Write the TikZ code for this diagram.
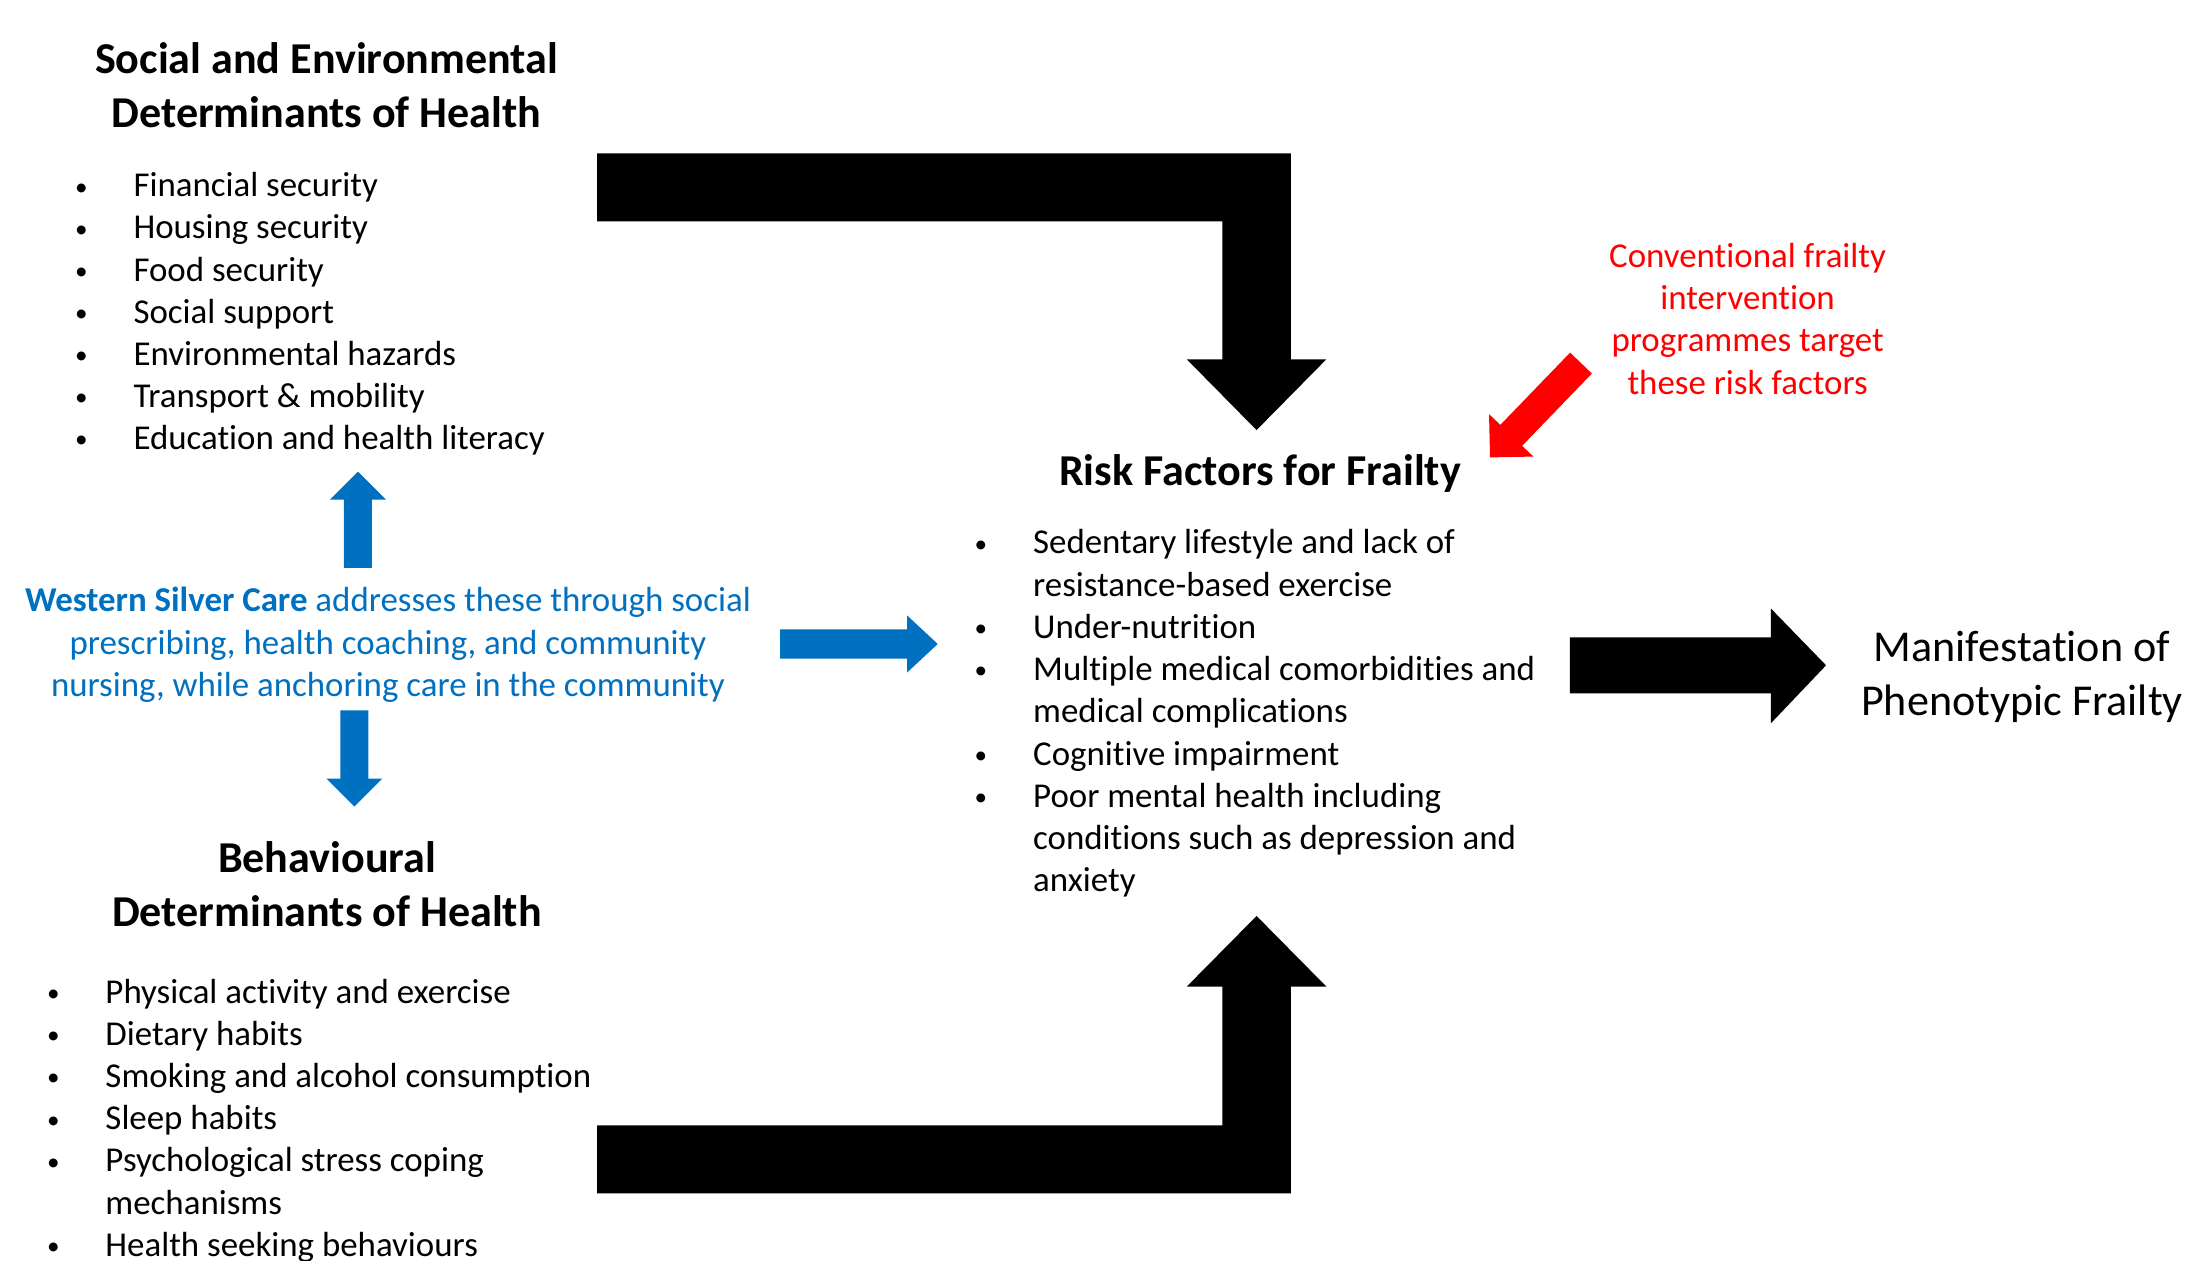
\documentclass[tikz,border=0pt]{standalone}
\usepackage{fontspec}
\setmainfont{Carlito}[Ligatures={NoCommon}]
\definecolor{wsblue}{HTML}{0070C0}
\definecolor{wsred}{HTML}{FF0000}
\newcommand{\bitem}{\llap{\makebox[0pt][c]{\raisebox{0.6pt}{\scalebox{0.72}{\textbullet}}}\hspace{18.7pt}}}
\tikzset{
  body/.style={inner sep=0pt, font=\fontsize{12.5pt}{15.1pt}\selectfont},
  headtext/.style={inner sep=0pt, font=\bfseries\fontsize{15.8pt}{19.4pt}\selectfont},
  bigtext/.style={inner sep=0pt, font=\fontsize{15.8pt}{19.1pt}\selectfont},
  blackarrow/.style={fill=black},
  bluearrow/.style={fill=wsblue},
  redarrow/.style={fill=wsred},
}
\begin{document}
\begin{tikzpicture}[x=0.5pt,y=-0.5pt]
\useasboundingbox[fill=white] (0,0) rectangle (1568,903);

% headings
\node[headtext, anchor=base] (sochead) at (234,52.5)
  {\begin{tabular}[t]{@{}c@{}}Social and Environmental\\Determinants of Health\end{tabular}};
\node[headtext, anchor=base] (behhead) at (234.4,625)
  {\begin{tabular}[t]{@{}c@{}}Behavioural\\Determinants of Health\end{tabular}};
\node[headtext, anchor=base] (riskhead) at (903,348)
  {Risk Factors for Frailty};
\node[bigtext, anchor=base] (manif) at (1449,474.2)
  {\begin{tabular}[t]{@{}c@{}}Manifestation of\\Phenotypic Frailty\end{tabular}};

% lists
\node[body, anchor=base west] (soclist) at (95.3,141)
  {\begin{tabular}[t]{@{}l@{}}
  \bitem Financial security\\
  \bitem Housing security\\
  \bitem Food security\\
  \bitem Social support\\
  \bitem Environmental hazards\\
  \bitem Transport \& mobility\\
  \bitem Education and health literacy
  \end{tabular}};
\node[body, anchor=base west] (risklist) at (740,397)
  {\fontsize{12.5pt}{15.125pt}\selectfont\begin{tabular}[t]{@{}l@{}}
  \bitem Sedentary lifestyle and lack of\\
  resistance-based exercise\\
  \bitem Under-nutrition\\
  \bitem Multiple medical comorbidities and\\
  medical complications\\
  \bitem Cognitive impairment\\
  \bitem Poor mental health including\\
  conditions such as depression and\\
  anxiety
  \end{tabular}};
\node[body, anchor=base west] (behlist) at (75.2,719)
  {\begin{tabular}[t]{@{}l@{}}
  \bitem Physical activity and exercise\\
  \bitem Dietary habits\\
  \bitem Smoking and alcohol consumption\\
  \bitem Sleep habits\\
  \bitem Psychological stress coping\\
  mechanisms\\
  \bitem Health seeking behaviours
  \end{tabular}};

% blue and red notes
\node[body, anchor=base, text=wsblue] (wsc) at (278,438.5)
  {\begin{tabular}[t]{@{}c@{}}\textbf{Western Silver Care} addresses these through social\\
  prescribing, health coaching, and community\\
  nursing, while anchoring care in the community\end{tabular}};
\node[body, anchor=base, text=wsred] (conv) at (1252.4,191.8)
  {\begin{tabular}[t]{@{}c@{}}Conventional frailty\\intervention\\programmes target\\these risk factors\end{tabular}};

% black block arrows
\fill[blackarrow] (428,110) -- (925,110) -- (925,257.5) -- (950.5,257.5) -- (900.5,308.2)
  -- (850.5,257.5) -- (876,257.5) -- (876,158.6) -- (428,158.6) -- cycle;
\fill[blackarrow] (428,855.2) -- (925,855.2) -- (925,707) -- (950.5,707) -- (900.5,656.4)
  -- (850.5,707) -- (876,707) -- (876,806.5) -- (428,806.5) -- cycle;
\fill[blackarrow] (1125,456.7) -- (1269,456.7) -- (1269,436) -- (1308.6,476.8)
  -- (1269,518.4) -- (1269,496.9) -- (1125,496.9) -- cycle;

% blue block arrows
\fill[bluearrow] (246.5,407) -- (246.5,358) -- (236.5,358) -- (256.5,338) -- (276.5,358)
  -- (266.5,358) -- (266.5,407) -- cycle;
\fill[bluearrow] (244,509) -- (244,558) -- (234,558) -- (254,578) -- (274,558)
  -- (264,558) -- (264,509) -- cycle;
\fill[bluearrow] (559,451) -- (650,451) -- (650,441) -- (672,461.5) -- (650,482)
  -- (650,472) -- (559,472) -- cycle;

% red block arrow
\fill[redarrow] (1125.2,252.7) -- (1075.2,304.5) -- (1067.1,296.8) -- (1067.8,327.8)
  -- (1098.9,327.2) -- (1090.8,319.5) -- (1140.8,267.7) -- cycle;
\end{tikzpicture}
\end{document}
